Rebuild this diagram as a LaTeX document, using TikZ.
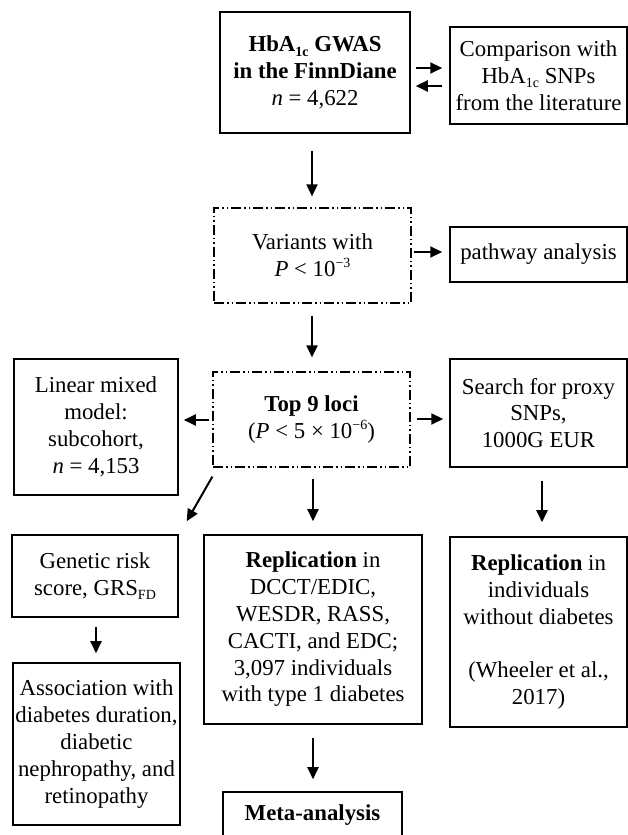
\documentclass[tikz,border=0pt]{standalone}
\usepackage{fontspec}
\setmainfont{Liberation Serif}
\usetikzlibrary{arrows.meta}
\newcommand{\lowsub}[1]{\raisebox{-0.4ex}{\fontsize{14}{14}\selectfont #1}}
\newcommand{\upsup}[1]{\raisebox{0.85ex}{\fontsize{14}{14}\selectfont #1}}
\begin{document}
\begin{tikzpicture}[x=1pt,y=1pt,
  box/.style={draw, line width=1.5pt, inner sep=0pt, align=center, font=\fontsize{22.8}{26.8}\selectfont},
  ddbox/.style={box, line width=1.2pt, dash pattern=on 10pt off 3pt on 1.5pt off 3pt on 1.5pt off 3pt},
  arr/.style={line width=2pt, -{Triangle[length=12pt,width=11pt]}}]
\useasboundingbox (0,0) rectangle (628,835);
\node[box, minimum width=190pt, minimum height=121pt] (gwas) at (315,762.5)
  {\textbf{HbA\lowsub{1c} GWAS}\\\textbf{in the FinnDiane}\\\textit{n} = 4,622};
\node[box, minimum width=177pt, minimum height=97pt] (comp) at (538.5,759.5)
  {Comparison with\\HbA\lowsub{1c} SNPs\\from the literature};
\node[ddbox, minimum width=197pt, minimum height=95pt] (var) at (312.5,579.5)
  {Variants with\\\textit{P} < 10\upsup{−3}};
\node[box, minimum width=177pt, minimum height=55pt] (path) at (538.5,580.5)
  {pathway analysis};
\node[ddbox, minimum width=197pt, minimum height=95pt] (top9) at (311.5,415.5)
  {\textbf{Top 9 loci}\\(\textit{P} < 5 × 10\upsup{−6})};
\node[box, minimum width=164pt, minimum height=136pt] (lin) at (96,408)
  {Linear mixed\\model:\\subcohort,\\\textit{n} = 4,153};
\node[box, minimum width=177pt, minimum height=108pt] (search) at (538.5,422)
  {Search for proxy\\SNPs,\\1000G EUR};
\node[box, minimum width=166pt, minimum height=82pt] (grs) at (95,259)
  {Genetic risk\\score, GRS\lowsub{FD}};
\node[box, minimum width=218pt, minimum height=189pt] (rep) at (313,205.5)
  {\textbf{Replication} in\\DCCT/EDIC,\\WESDR, RASS,\\CACTI, and EDC;\\3,097 individuals\\with type 1 diabetes};
\node[box, minimum width=177pt, minimum height=190pt] (rep2) at (538.5,203)
  {\textbf{Replication} in\\individuals\\without diabetes\\[26.8pt](Wheeler et al.,\\2017)};
\node[box, minimum width=167pt, minimum height=162pt] (assoc) at (96.5,91)
  {Association with\\diabetes duration,\\diabetic\\nephropathy, and\\retinopathy};
\node[box, minimum width=179pt, minimum height=46pt] (meta) at (312.5,20)
  {\textbf{Meta-analysis}};
% connectors
\draw[arr] ([xshift=5pt,yshift=4.5pt]gwas.east) -- ([xshift=-7pt,yshift=7.5pt]comp.west);
\draw[arr] ([xshift=-7pt,yshift=-10.5pt]comp.west) -- ([xshift=5pt,yshift=-13.5pt]gwas.east);
\draw[arr] ([xshift=-3pt,yshift=-17pt]gwas.south) -- ([xshift=-0.5pt,yshift=11pt]var.north);
\draw[arr] ([xshift=2pt,yshift=3.5pt]var.east) -- ([xshift=-7pt,yshift=2.5pt]path.west);
\draw[arr] ([xshift=-0.5pt,yshift=-12pt]var.south) -- ([xshift=0.5pt,yshift=14pt]top9.north);
\draw[arr] ([xshift=-3pt,yshift=-0.5pt]top9.west) -- ([xshift=5pt,yshift=7pt]lin.east);
\draw[arr] ([xshift=6pt,yshift=0.5pt]top9.east) -- ([xshift=-6pt,yshift=-6pt]search.west);
\draw[arr] ([yshift=-9pt]top9.south west) -- ([xshift=8pt,yshift=13pt]grs.north east);
\draw[arr] ([xshift=1.5pt,yshift=-11pt]top9.south) -- ([yshift=13pt]rep.north);
\draw[arr] ([xshift=3.5pt,yshift=-13pt]search.south) -- ([xshift=3.5pt,yshift=14pt]rep2.north);
\draw[arr] ([xshift=1pt,yshift=-9pt]grs.south) -- ([xshift=-0.5pt,yshift=9pt]assoc.north);
\draw[arr] ([yshift=-13pt]rep.south) -- ([xshift=0.5pt,yshift=12pt]meta.north);
\end{tikzpicture}
\end{document}
